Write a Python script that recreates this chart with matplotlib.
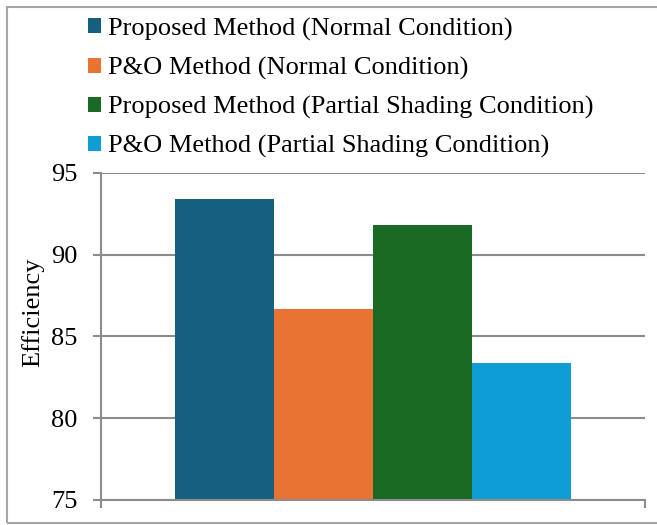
import matplotlib
matplotlib.use("Agg")
from matplotlib import pyplot as plt
from matplotlib.patches import Patch, Rectangle

plt.rcParams['font.family'] = ['Liberation Serif', 'DejaVu Serif']

# 效率数据
methods = ["Proposed Method (Normal Condition)",
           "P&O Method (Normal Condition)",
           "Proposed Method (Partial Shading Condition)",
           "P&O Method (Partial Shading Condition)"]
efficiency = [93.4, 86.7, 91.8, 83.4]
colors = ["#175f80", "#e87333", "#1b6a24", "#0f9dd5"]
y_ticks = [75, 80, 85, 90, 95]

fig = plt.figure(figsize=(6.57, 5.25), dpi=100)

# 外框
fig.patches.append(Rectangle((7 / 657, 2 / 525), 1.2, 516 / 525,
                             transform=fig.transFigure, fill=False,
                             edgecolor="#a6a6a6", linewidth=1.5))

ax = fig.add_axes([101 / 657, 25 / 525, 544 / 657, 327 / 525])

grid_c = "#8c8c8c"
w = 0.182
offsets = [-1.5 * w, -0.5 * w, 0.5 * w, 1.5 * w]
for off, v, c in zip(offsets, efficiency, colors):
    ax.bar(off, v - 75, bottom=75, width=w, color=c, zorder=2)

ax.set_xlim(-0.5, 0.5)
ax.set_ylim(75, 95)
ax.set_yticks(y_ticks)
ax.set_xticks([-0.5, 0.5])
ax.set_xticklabels([])

ax.grid(True, axis='y', color=grid_c, linewidth=1.5)
ax.set_axisbelow(True)

for s in ['top', 'right']:
    ax.spines[s].set_visible(False)
for s in ['left', 'bottom']:
    ax.spines[s].set_color(grid_c)
    ax.spines[s].set_linewidth(1.5)

ax.tick_params(axis='both', direction='out', length=6, width=1.5,
               color=grid_c, labelsize=19, pad=11)

ax.set_ylabel("Efficiency", fontsize=19)
ax.yaxis.set_label_coords(-0.105, 0.575)

# 图例
handles = [Patch(facecolor=c, edgecolor='none') for c in colors]
fig.legend(handles, methods, loc='upper left',
           bbox_to_anchor=(77 / 657, 1 - 7 / 525),
           frameon=False, fontsize=19, handlelength=0.5, handleheight=0.5,
           handletextpad=0.28, labelspacing=0.61, borderaxespad=0)

fig.savefig("out.png", dpi=100)
